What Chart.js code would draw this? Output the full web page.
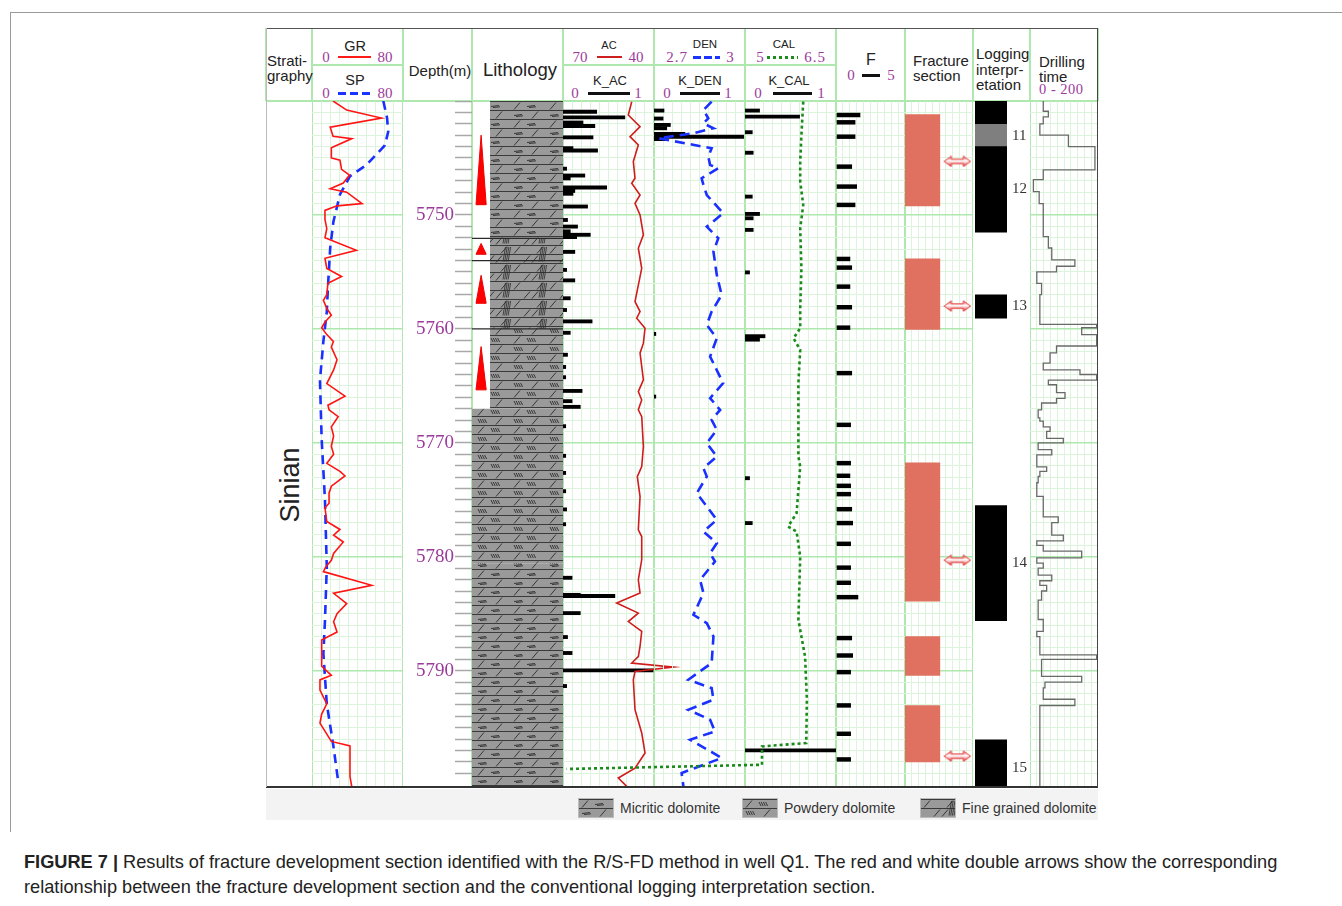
<!DOCTYPE html>
<html>
<head>
<meta charset="utf-8">
<title>Well Q1 fracture development sections</title>
<script src="https://cdn.jsdelivr.net/npm/chart.js@4.4.1/dist/chart.umd.min.js"></script>
<style>
  html, body { margin: 0; padding: 0; background: #fff; }
  body { position: relative; width: 1342px; height: 906px; overflow: hidden;
         font-family: "Liberation Sans", Arial, sans-serif; color: #222; }
  .a { position: absolute; white-space: nowrap; line-height: 1; }
  .c { transform: translate(-50%, -50%); }
  .l { transform: translateY(-50%); }
  .num { font-family: "Liberation Serif", serif; color: #9b3a9b; font-size: 15px; }
  canvas { position: absolute; }
</style>
</head>
<body>
<script>
// depth range shown (m)
const DEPTH_MIN = 5740, DEPTH_MAX = 5800.2;

// GR (API) and SP (mV) curves
const grDepth = [5740.0, 5740.8, 5741.5, 5742.3, 5743.1, 5743.3, 5744.1, 5745.0, 5745.2, 5746.0,
                 5746.5, 5747.2, 5747.7, 5748.0, 5749.0, 5749.2, 5749.6, 5750.4, 5751.2, 5752.0,
                 5753.1, 5753.8, 5754.7, 5755.4, 5756.0, 5757.0, 5757.5, 5758.2, 5758.8, 5759.4,
                 5759.9, 5760.5, 5761.1, 5761.6, 5762.7, 5763.6, 5764.8, 5765.9, 5766.7, 5767.1,
                 5767.7, 5768.6, 5769.4, 5770.3, 5771.0, 5771.8, 5772.5, 5772.9, 5773.8, 5774.4,
                 5775.3, 5775.7, 5776.9, 5777.6, 5778.1, 5778.7, 5779.7, 5780.3, 5780.9, 5781.3,
                 5782.5, 5783.2, 5784.1, 5785.0, 5785.7, 5786.6, 5787.3, 5789.6, 5790.4, 5790.8,
                 5791.7, 5792.9, 5793.8, 5794.6, 5796.2, 5796.6, 5799.3, 5800.2];
const grVal   = [18.5, 30.5, 61, 16, 18.5, 35, 17, 17, 24.6, 26,
                 33, 27.5, 16, 30.5, 44, 22, 11.4, 11.4, 13, 11.4,
                 39, 11.4, 13, 26, 14, 13, 10, 13, 17, 11.4,
                 8.5, 13, 18.8, 17, 22, 19, 13, 29, 14, 15,
                 23, 17, 19, 17, 19, 13, 24.6, 29, 17, 15,
                 15, 11.4, 13, 24.6, 19, 27.5, 19, 17, 12, 10,
                 52.5, 19, 30.5, 22, 19, 22, 8.5, 8.5, 17, 7,
                 7, 13, 8.5, 7, 17, 33.4, 33.4, 35];
const spDepth = [5740.0, 5741.5, 5742.7, 5743.9, 5745.6, 5746.6, 5748.2, 5750.6, 5752.9, 5755.8,
                 5758.5, 5761.1, 5764.5, 5769.7, 5775.0, 5780.9, 5785.6, 5788.5, 5792.9, 5796.6, 5799.7];
const spVal   = [62.7, 66, 67, 64, 48, 33.4, 24.6, 18.8, 16, 14.3,
                 13, 10, 7, 8.5, 11.4, 13, 11.4, 10, 13, 18.8, 23];

// AC (us/ft)
const acDepth = [5740.06, 5741.23, 5742.25, 5743.13, 5743.86, 5745.32, 5746.78, 5747.22, 5748.25, 5748.97,
                 5750.0, 5751.75, 5752.92, 5754.68, 5757.6, 5758.48, 5759.06, 5759.94, 5761.25, 5762.13,
                 5764.47, 5765.5, 5766.23, 5767.1, 5767.7, 5770.32, 5772.08, 5772.96, 5774.71, 5777.63,
                 5778.22, 5780.26, 5782.02, 5783.18, 5784.06, 5784.94, 5785.68, 5786.55, 5787.87, 5788.75,
                 5789.32, 5789.68, 5790.06, 5790.79, 5793.42, 5795.46, 5797.22, 5798.54, 5799.41, 5800.15];
const acVal   = [47.35, 48.47, 44.6, 47.9, 45.17, 46.82, 46.26, 47.35, 44.6, 46.26,
                 44.6, 43.5, 45.17, 44.05, 46.26, 44.6, 45.7, 42.96, 43.5, 44.6,
                 43.5, 45.17, 44.05, 45.17, 44.05, 43.5, 44.05, 45.5, 44.6, 45.17,
                 44.05, 44.05, 45.17, 44.6, 52.3, 45.17, 48.47, 44.05, 44.6, 45.17,
                 47.35, 33.63, 46.26, 46.82, 46.26, 44.05, 42.96, 46.26, 51.77, 49.0];
const kacDepth = [5740.8, 5741.3, 5741.75, 5742.05, 5743.05, 5744.0, 5744.2, 5745.8, 5746.4, 5746.65,
                  5747.45, 5747.75, 5748.0, 5749.12, 5750.3, 5750.88, 5751.3, 5751.6, 5751.8, 5753.1,
                  5754.68, 5755.6, 5757.17, 5758.2, 5759.2, 5760.2, 5762.13, 5763.2, 5764.1, 5765.3,
                  5766.2, 5766.7, 5768.4, 5771.0, 5772.5, 5774.1, 5775.7, 5777.0, 5781.7, 5783.2,
                  5783.3, 5784.8, 5786.9, 5788.3, 5789.83, 5791.2];
const kacVal   = [0.37, 0.68, 0.22, 0.35, 0.33, 0.11, 0.38, 0.04, 0.24, 0.08,
                  0.48, 0.13, 0.11, 0.27, 0.05, 0.16, 0.08, 0.30, 0.15, 0.13,
                  0.04, 0.13, 0.08, 0.04, 0.32, 0.08, 0.05, 0.03, 0.03, 0.21,
                  0.10, 0.19, 0.03, 0.03, 0.03, 0.03, 0.04, 0.03, 0.10, 0.19,
                  0.57, 0.19, 0.05, 0.10, 0.99, 0.04];

// DEN (g/cm3)
const denDepth = [5740.06, 5740.79, 5741.52, 5741.96, 5742.39, 5742.83, 5743.27, 5744.15, 5744.89, 5745.61,
                  5745.9, 5746.78, 5747.37, 5748.25, 5749.85, 5751.03, 5752.04, 5753.22, 5755.26, 5757.02,
                  5758.48, 5759.65, 5760.82, 5762.43, 5764.76, 5766.08, 5767.11, 5767.98, 5768.86, 5770.03,
                  5771.2, 5772.22, 5772.96, 5774.41, 5776.75, 5777.78, 5778.8, 5779.68, 5780.41, 5782.02,
                  5783.18, 5785.09, 5785.82, 5786.99, 5789.32, 5790.79, 5791.52, 5792.54, 5793.42, 5794.3,
                  5795.32, 5796.05, 5797.22, 5797.66, 5798.97, 5800.15];
const denVal   = [2.890, 2.863, 2.879, 2.863, 2.896, 2.830, 2.715, 2.890, 2.879, 2.885,
                  2.912, 2.857, 2.863, 2.874, 2.928, 2.874, 2.912, 2.896, 2.907, 2.923,
                  2.890, 2.874, 2.907, 2.885, 2.928, 2.885, 2.918, 2.890, 2.907, 2.874,
                  2.907, 2.863, 2.874, 2.841, 2.907, 2.863, 2.907, 2.885, 2.901, 2.852,
                  2.863, 2.830, 2.874, 2.896, 2.890, 2.813, 2.890, 2.896, 2.813, 2.885,
                  2.901, 2.819, 2.896, 2.923, 2.791, 2.797];
const kdenDepth = [5740.7, 5741.4, 5741.96, 5742.25, 5742.75, 5743.0, 5743.2, 5760.3, 5765.8];
const kdenVal   = [0.11, 0.10, 0.18, 0.14, 0.34, 1.0, 0.14, 0.02, 0.02];

// CAL (in)
const calDepth = [5740.06, 5742.98, 5745.32, 5747.08, 5749.12, 5751.17, 5754.68, 5758.18, 5759.94, 5760.82,
                  5761.84, 5764.76, 5771.2, 5772.08, 5776.17, 5777.34, 5777.78, 5779.97, 5785.53, 5788.75,
                  5792.54, 5796.34, 5796.64, 5798.25, 5798.62];
const calVal   = [5.96, 5.93, 5.91, 5.91, 5.96, 5.91, 5.93, 5.91, 5.91, 5.80,
                  5.91, 5.88, 5.88, 5.91, 5.85, 5.71, 5.85, 5.91, 5.88, 5.99,
                  6.02, 6.01, 5.28, 5.28, 2.06];
const kcalDepth = [5740.7, 5741.23, 5742.6, 5744.4, 5748.25, 5749.77, 5750.15, 5751.17, 5754.9, 5760.5,
                   5760.8, 5772.96, 5776.9, 5796.85];
const kcalVal   = [0.16, 0.60, 0.08, 0.09, 0.08, 0.16, 0.09, 0.09, 0.05, 0.22,
                   0.16, 0.05, 0.08, 1.0];

// F
const fDepth = [5741.23, 5741.87, 5743.13, 5745.76, 5747.51, 5749.12, 5753.86, 5754.62, 5756.29, 5758.1,
                5759.89, 5763.88, 5768.42, 5771.78, 5772.89, 5773.77, 5774.5, 5775.82, 5777.04, 5778.86,
                5780.95, 5782.28, 5783.54, 5787.13, 5788.66, 5790.12, 5793.04, 5795.53, 5797.78];
const fVal   = [1.74, 1.38, 1.38, 1.14, 1.50, 1.38, 1.01, 1.14, 1.01, 1.14,
                1.01, 1.14, 1.06, 1.06, 1.01, 1.06, 1.06, 1.14, 1.21, 1.06,
                1.06, 1.06, 1.59, 1.14, 1.21, 1.06, 1.06, 1.06, 1.06];

// fracture development sections (R/S-FD) and matching arrows
const fracTop = [5741.2, 5753.85, 5771.75, 5787.0, 5793.05];
const fracBot = [5749.2, 5760.05, 5783.9, 5790.4, 5798.0];
const arrowDepth = [5745.3, 5758.0, 5780.3, 5797.5];

// logging interpretation layers
const interpTop = [5740.0, 5742.05, 5744.0, 5757.0, 5775.5, 5796.05];
const interpBot = [5742.05, 5744.0, 5751.5, 5759.05, 5785.6, 5800.2];
const interpKind = ['dark', 'grey', 'dark', 'dark', 'dark', 'dark'];
const interpLabels = ['11', '12', '13', '14', '15'];
const interpLabelDepth = [5743.1, 5747.75, 5758.0, 5780.55, 5798.5];

// drilling time (min/m), value holds from each top depth down to the next
const dtTop = [5740.0, 5740.9, 5741.4, 5742.0, 5743.0, 5744.0, 5746.05, 5746.9, 5747.95, 5749.0,
               5751.9, 5752.9, 5753.95, 5754.5, 5755.0, 5756.0, 5757.0, 5759.6, 5759.9, 5760.5,
               5761.5, 5762.1, 5763.0, 5763.6, 5764.0, 5764.5, 5764.9, 5765.6, 5766.1, 5766.5,
               5767.1, 5767.8, 5768.1, 5768.6, 5769.0, 5769.6, 5770.0, 5770.6, 5771.05, 5772.1,
               5772.5, 5772.95, 5773.5, 5774.7, 5776.5, 5777.0, 5778.1, 5778.6, 5779.0, 5779.5,
               5780.1, 5780.55, 5781.0, 5781.6, 5782.1, 5782.5, 5783.0, 5783.8, 5785.5, 5786.55,
               5787.0, 5788.6, 5789.0, 5790.5, 5791.0, 5791.5, 5792.5, 5793.05];
const dtVal = [39, 54, 39, 29, 113, 191, 39, 10, 27, 39,
               54, 64, 132, 78, 20, 34, 29, 196, 152, 196,
               78, 59, 39, 147, 196, 54, 78, 103, 78, 34,
               24, 29, 39, 59, 49, 98, 24, 64, 20, 49,
               29, 24, 20, 39, 83, 64, 98, 20, 39, 152,
               20, 39, 24, 64, 29, 49, 34, 24, 39, 20,
               29, 196, 34, 152, 44, 39, 132, 29];

// lithology column
const lithTop  = [5740.0, 5752.05, 5760.0, 5767.0, 5780.6];
const lithBot  = [5752.05, 5760.0, 5767.0, 5780.6, 5800.2];
const lithType = ['Micritic dolomite', 'Fine grained dolomite', 'Powdery dolomite', 'Powdery dolomite', 'Micritic dolomite'];
const lithLegend = ['Micritic dolomite', 'Powdery dolomite', 'Fine grained dolomite'];
const cycleBase = 5767.0;
const cycTop = [5743.0, 5752.5, 5755.3, 5761.55];
const cycBot = [5749.1, 5753.45, 5757.75, 5765.35];
const cycBreak = [5752.05, 5754.0, 5760.0];

const stratName = 'Sinian';

// ---------- page layout ----------
const TOP = 101, BOTTOM = 787, H = BOTTOM - TOP;
const MAJOR = '#aee8ae', MINOR = '#dcf4dc';
const PURPLE = '#9b3a9b';

Chart.defaults.font.family = '"Liberation Sans", Arial, sans-serif';
Chart.defaults.animation = false;
Chart.defaults.responsive = false;
Chart.defaults.devicePixelRatio = 1;
Chart.defaults.events = [];
Chart.defaults.plugins.legend.display = false;
Chart.defaults.plugins.tooltip.enabled = false;
Chart.defaults.elements.point.radius = 0;
Chart.defaults.elements.line.tension = 0;

const page = document.body;

function box(x, y, w, h, bg) {
  const d = document.createElement('div');
  d.className = 'a';
  d.style.cssText += `left:${x}px;top:${y}px;width:${w}px;height:${h}px;background:${bg};`;
  page.appendChild(d);
  return d;
}
function text(str, x, y, css, cls) {
  const d = document.createElement('div');
  d.className = 'a ' + (cls || 'c');
  d.textContent = str;
  d.style.cssText += `left:${x}px;top:${y}px;` + (css || '');
  page.appendChild(d);
  return d;
}
function addCanvas(x, y, w, h) {
  const c = document.createElement('canvas');
  c.width = w; c.height = h;
  c.style.left = x + 'px'; c.style.top = y + 'px';
  c.style.width = w + 'px'; c.style.height = h + 'px';
  page.appendChild(c);
  return c;
}
const pts = (vals, depths) => depths.map((d, i) => ({ x: vals[i], y: d }));
const noPad = s => { s.paddingTop = 0; s.paddingBottom = 0; s.paddingLeft = 0; s.paddingRight = 0; };

function depthScale(grid) {
  return {
    type: 'linear', axis: 'y', position: 'left', reverse: true, offset: false,
    min: DEPTH_MIN, max: DEPTH_MAX,
    afterFit: s => { s.width = 0; noPad(s); },
    ticks: { display: false, stepSize: 1 },
    border: { display: false },
    grid: grid ? {
      offset: false, drawTicks: false,
      color: c => Math.round(c.tick.value) % 10 === 0 ? MAJOR : MINOR,
      lineWidth: c => Math.round(c.tick.value) % 10 === 0 ? 1.6 : 1
    } : { display: false, drawTicks: false, offset: false }
  };
}
function valueScale(min, max, grid, reverse) {
  const edge = c => c.index === 0 || c.index === c.scale.ticks.length - 1;
  return {
    type: 'linear', axis: 'x', position: 'bottom', reverse: !!reverse, offset: false,
    min: min, max: max,
    afterFit: s => { s.height = 0; noPad(s); },
    ticks: { display: false, stepSize: (max - min) / 10 },
    border: { display: false },
    grid: grid ? {
      offset: false, drawTicks: false,
      color: c => edge(c) ? MAJOR : MINOR,
      lineWidth: c => edge(c) ? 2 : 1
    } : { display: false, drawTicks: false, offset: false }
  };
}
function track(x, w, scales, datasets, pad) {
  pad = pad || {};
  const pl = pad.left || 0, pr = pad.right || 0;
  const cv = addCanvas(x - pl, TOP, w + pl + pr, H);
  return new Chart(cv, {
    type: 'line',
    data: { datasets: datasets },
    options: {
      layout: { autoPadding: false, padding: { left: pl, right: pr, top: 0, bottom: 0 } },
      scales: scales
    }
  });
}

// ---------- lithology patterns ----------
function lithTile(type) {
  const c = document.createElement('canvas');
  c.width = 36; c.height = 18;
  const g = c.getContext('2d');
  g.fillStyle = '#9a9a9a'; g.fillRect(0, 0, 36, 18);
  g.strokeStyle = '#3a3a3a'; g.lineWidth = 1;
  g.beginPath(); g.moveTo(0, 0.5); g.lineTo(36, 0.5); g.moveTo(0, 9.5); g.lineTo(36, 9.5); g.stroke();
  g.strokeStyle = '#2b2b2b'; g.lineWidth = 0.9;
  const seg = (x1, y1, x2, y2) => { g.beginPath(); g.moveTo(x1, y1); g.lineTo(x2, y2); g.stroke(); };
  [[0, 3, 16], [9, 21, 3]].forEach(([y, sx, mx]) => {
    seg(sx, y + 8.5, sx + 6, y + 1.5);
    if (type === 'Micritic dolomite') {
      seg(mx, y + 5.5, mx + 8, y + 4.5);
      seg(mx + 2, y + 6.5, mx + 9, y + 5.8);
    } else if (type === 'Powdery dolomite') {
      for (let k = 0; k < 4; k++) seg(mx + k * 2.2, y + 3, mx + 2 + k * 2.2, y + 7);
    } else {
      seg(mx + 10, y + 8.5, mx + 16, y + 1.5);
    }
  });
  if (type === 'Fine grained dolomite') {
    g.lineWidth = 0.8;
    for (let k = 0; k < 4; k++) seg(28 + k * 1.7, 16.5, 30.5 + k * 1.7, 2);
  }
  return c;
}
const tiles = {};
const patterns = {};
const patCtx = document.createElement('canvas').getContext('2d');
lithLegend.forEach(t => {
  tiles[t] = lithTile(t);
  patterns[t] = patCtx.createPattern(tiles[t], 'repeat');
});

function arrowImage() {
  const c = document.createElement('canvas');
  c.width = 28; c.height = 12;
  const g = c.getContext('2d');
  g.beginPath();
  g.moveTo(0.8, 6); g.lineTo(8, 0.8); g.lineTo(8, 3.8); g.lineTo(20, 3.8); g.lineTo(20, 0.8);
  g.lineTo(27.2, 6); g.lineTo(20, 11.2); g.lineTo(20, 8.2); g.lineTo(8, 8.2); g.lineTo(8, 11.2);
  g.closePath();
  const gr = g.createLinearGradient(0, 0, 0, 12);
  gr.addColorStop(0, '#f05050'); gr.addColorStop(0.45, '#ffffff'); gr.addColorStop(1, '#e01818');
  g.fillStyle = gr; g.fill();
  g.strokeStyle = '#e23a3a'; g.lineWidth = 1; g.stroke();
  return c;
}

// ---------- frame and headers ----------
box(10, 12, 1332, 1, '#9a9a9a');
box(10, 12, 1, 820, '#9a9a9a');
box(266, 28, 832, 73, '#fff');
box(266, 100, 832, 2, MAJOR);
const cols = [266, 312, 403, 472, 563, 654, 745, 836, 905, 973, 1030, 1098];
cols.forEach(cx => box(cx - 1, 28, 2, 73, MAJOR));
box(312, 64, 91, 2, MAJOR);
box(563, 64, 273, 2, MAJOR);

text('Strati-', 267, 60, 'font-size:15px;', 'l');
text('graphy', 267, 75, 'font-size:15px;', 'l');

text('GR', 355, 46, 'font-size:14.5px;');
text('0', 326, 57, '', 'c num');
box(338, 56, 33, 2, '#ff1a1a');
text('80', 385, 57, '', 'c num');
text('SP', 355, 80, 'font-size:14.5px;');
text('0', 326, 93, '', 'c num');
box(338, 92, 33, 3, 'repeating-linear-gradient(to right,#1a33ff 0 8px,transparent 8px 12px)');
text('80', 385, 93, '', 'c num');

text('Depth(m)', 440, 70, 'font-size:15px;');
text('Lithology', 520, 70, 'font-size:18.5px;');

text('AC', 609, 45, 'font-size:11px;');
text('70', 580, 57, '', 'c num');
box(597, 56, 25, 2, '#cc2020');
text('40', 636, 57, '', 'c num');
text('K_AC', 610, 80, 'font-size:13px;');
text('0', 575, 93, '', 'c num');
box(588, 92, 42, 3, '#111');
text('1', 638, 93, '', 'c num');

text('DEN', 705, 45, 'font-size:11.5px;');
text('2.7', 677, 57, 'letter-spacing:1px;', 'c num');
box(693, 56, 27, 3, 'repeating-linear-gradient(to right,#1a33ff 0 8px,transparent 8px 11px)');
text('3', 730, 57, '', 'c num');
text('K_DEN', 700, 80, 'font-size:13px;');
text('0', 667, 93, '', 'c num');
box(680, 92, 40, 3, '#111');
text('1', 728, 93, '', 'c num');

text('CAL', 784, 45, 'font-size:11.5px;');
text('5', 760, 57, '', 'c num');
box(767, 56, 31, 3, 'repeating-linear-gradient(to right,#1e8c1e 0 3px,transparent 3px 6px)');
text('6.5', 815, 57, 'letter-spacing:1px;', 'c num');
text('K_CAL', 789, 80, 'font-size:13px;');
text('0', 758, 93, '', 'c num');
box(773, 92, 39, 3, '#111');
text('1', 821, 93, '', 'c num');

text('F', 871, 60, 'font-size:16px;');
text('0', 851, 75, '', 'c num');
box(862, 74, 18, 3, '#111');
text('5', 891, 75, '', 'c num');

text('Fracture', 913, 60, 'font-size:15px;', 'l');
text('section', 913, 75, 'font-size:15px;', 'l');
text('Logging', 976, 53, 'font-size:15px;', 'l');
text('interpr-', 976, 69, 'font-size:15px;', 'l');
text('etation', 976, 84, 'font-size:15px;', 'l');
text('Drilling', 1039, 61, 'font-size:15px;', 'l');
text('time', 1039, 76, 'font-size:15px;', 'l');
text('0 - 200', 1039, 89, 'font-size:14.5px;letter-spacing:0.5px;', 'l num');

text(stratName, 290, 485, 'font-size:27px;transform:translate(-50%,-50%) rotate(-90deg);');

// ---------- tracks ----------
// GR / SP
track(312, 91, { x: valueScale(0, 80, true), y: depthScale(true) }, [
  { type: 'line', label: 'GR', indexAxis: 'y', data: pts(grVal, grDepth),
    borderColor: '#ff1414', borderWidth: 1.6 },
  { type: 'line', label: 'SP', indexAxis: 'y', data: pts(spVal, spDepth),
    borderColor: '#1a30ff', borderWidth: 2.6, borderDash: [9, 6] }
]);

// depth axis + lithology + sedimentary cycles
const lithSets = lithTop.map((t, i) => {
  const left = t < cycleBase ? 18 / 91 : 0;
  const b = lithBot[i];
  return {
    type: 'line', label: lithType[i], indexAxis: 'y', order: 3,
    data: [{ x: left, y: t }, { x: 1, y: t }, { x: 1, y: b }, { x: left, y: b }, { x: left, y: t }],
    borderWidth: 0, borderColor: 'rgba(0,0,0,0)',
    backgroundColor: patterns[lithType[i]], fill: 'shape'
  };
});
const cycSets = cycTop.map((t, i) => ({
  type: 'line', label: 'cycle', indexAxis: 'y', order: 0,
  data: [{ x: 0.1, y: t }, { x: 0.156, y: cycBot[i] }, { x: 0.044, y: cycBot[i] }, { x: 0.1, y: t }],
  borderColor: '#ee0000', borderWidth: 1, backgroundColor: '#ff0000', fill: 'shape'
}));
const breakSets = cycBreak.map(d => ({
  type: 'line', label: 'break', indexAxis: 'x', order: 1,
  data: [{ x: 0, y: d }, { x: 1, y: d }], borderColor: '#2a2a2a', borderWidth: 1.3
}));
const lithScaleY = depthScale(false);
Object.assign(lithScaleY, {
  afterFit: s => { s.width = 69; noPad(s); },
  ticks: {
    display: true, stepSize: 1, autoSkip: false, padding: 1,
    color: PURPLE, font: { family: '"Liberation Serif", serif', size: 19 },
    callback: v => (v % 10 === 0 && v > DEPTH_MIN && v < 5800) ? String(v) : ''
  },
  grid: { display: true, offset: false, drawOnChartArea: false, drawTicks: true, tickLength: 17,
          tickColor: '#a8a8a8', tickWidth: 1.5, color: '#a8a8a8' }
});
const lithScaleX = valueScale(0, 1, true);
lithScaleX.grid.color = c => c.index === 0 ? MAJOR : 'rgba(0,0,0,0)';
track(403, 160, { x: lithScaleX, y: lithScaleY }, cycSets.concat(breakSets, lithSets));

// AC / K_AC
track(563, 91, { x: valueScale(40, 70, true, true), xk: valueScale(0, 1, false), y: depthScale(true) }, [
  { type: 'line', label: 'AC', indexAxis: 'y', data: pts(acVal, acDepth),
    borderColor: '#d01c1c', borderWidth: 1.6, clip: false },
  { type: 'bar', label: 'K_AC', indexAxis: 'y', xAxisID: 'xk', data: pts(kacVal, kacDepth),
    backgroundColor: '#000', barThickness: 3.2 }
], { right: 30 });

// DEN / K_DEN
track(654, 91, { x: valueScale(2.7, 3.0, true), xk: valueScale(0, 1, false), y: depthScale(true) }, [
  { type: 'line', label: 'DEN', indexAxis: 'y', data: pts(denVal, denDepth),
    borderColor: '#1a30ff', borderWidth: 2.6, borderDash: [10, 6], clip: false },
  { type: 'bar', label: 'K_DEN', indexAxis: 'y', xAxisID: 'xk', data: pts(kdenVal, kdenDepth),
    backgroundColor: '#000', barThickness: 3.2 }
]);

// CAL / K_CAL
track(745, 91, { x: valueScale(5, 6.5, true), xk: valueScale(0, 1, false), y: depthScale(true) }, [
  { type: 'line', label: 'CAL', indexAxis: 'y', data: pts(calVal, calDepth),
    borderColor: '#1a8a1a', borderWidth: 2.6, borderDash: [3, 3], clip: false },
  { type: 'bar', label: 'K_CAL', indexAxis: 'y', xAxisID: 'xk', data: pts(kcalVal, kcalDepth),
    backgroundColor: '#000', barThickness: 3.2 }
], { left: 185 });

// F
track(836, 69, { x: valueScale(0, 5, true), y: depthScale(true) }, [
  { type: 'bar', label: 'F', indexAxis: 'y', data: pts(fVal, fDepth),
    backgroundColor: '#000', barThickness: 3.8 }
]);

// fracture section
const arrowImg = arrowImage();
track(905, 68, { x: valueScale(0, 10, true), y: depthScale(true) }, [
  { type: 'line', label: 'match', indexAxis: 'y', showLine: false,
    data: arrowDepth.map(d => ({ x: 7.7, y: d })),
    pointStyle: arrowImg, pointRadius: 6 },
  { type: 'bar', label: 'Fracture section', indexAxis: 'x',
    data: fracTop.map((t, i) => ({ x: 2.55, y: [t, fracBot[i]] })),
    backgroundColor: '#e0705f', barThickness: 35 }
]);

// logging interpretation
const interpY = depthScale(false);
const interpLabY = Object.assign(depthScale(false), {
  position: 'right',
  afterFit: s => { s.width = 23; noPad(s); },
  afterBuildTicks: s => { s.ticks = interpLabelDepth.map(v => ({ value: v })); },
  ticks: { display: true, autoSkip: false, padding: 5, color: '#333',
           font: { family: '"Liberation Serif", serif', size: 15 },
           callback: (v, i) => interpLabels[i] }
});
new Chart(addCanvas(973, TOP, 57, H), {
  type: 'line',
  data: { datasets: [
    { type: 'bar', label: 'Logging interpretation', indexAxis: 'x',
      data: interpTop.map((t, i) => ({ x: 0.5, y: [t, interpBot[i]] })),
      backgroundColor: interpKind.map(k => k === 'grey' ? '#7f7f7f' : '#000'),
      barThickness: 32 }
  ] },
  options: {
    layout: { autoPadding: false, padding: { left: 2, right: 0, top: 0, bottom: 0 } },
    scales: { x: valueScale(0, 1, false), y: interpY, yl: interpLabY }
  }
});

// drilling time
track(1030, 68, { x: valueScale(0, 200, true), y: depthScale(true) }, [
  { type: 'line', label: 'Drilling time', indexAxis: 'y', stepped: 'after',
    data: pts(dtVal.concat([dtVal[dtVal.length - 1]]), dtTop.concat([DEPTH_MAX])),
    borderColor: '#6a6a6a', borderWidth: 1.3 }
]);

// outer frame of the log
box(266, 28, 832, 1, '#555');
box(266, 786, 832, 1.5, '#333');
box(1097, 28, 1, 759, '#444');
box(266, 28, 1, 759, '#bbb');

// ---------- lithology legend ----------
box(266, 789, 832, 31, '#f3f3f3');
const legendPos = [578, 742, 920];
lithLegend.forEach((t, i) => {
  const sw = box(legendPos[i], 798, 36, 20, `url(${tiles[t].toDataURL()})`);
  sw.style.border = '1px solid #bbb';
  sw.style.boxSizing = 'border-box';
  text(t, legendPos[i] + 42, 808, 'font-size:14px;color:#333;', 'l');
});

// ---------- caption ----------
const cap1 = text('', 24, 862, 'font-size:18.2px;color:#222;', 'l');
cap1.innerHTML = '<b>FIGURE 7 |</b> Results of fracture development section identified with the R/S-FD method in well Q1. The red and white double arrows show the corresponding';
text('relationship between the fracture development section and the conventional logging interpretation section.', 24, 887, 'font-size:18.2px;color:#222;', 'l');
</script>
</body>
</html>
